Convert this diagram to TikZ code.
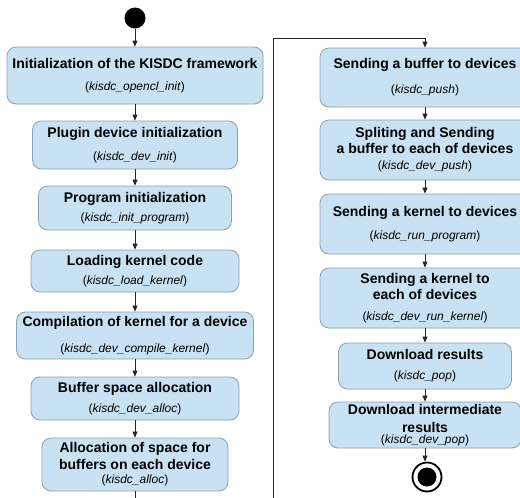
\documentclass[tikz,border=0pt]{standalone}
\usepackage{fontspec}
\setmainfont{Liberation Sans}
\usetikzlibrary{arrows.meta}
\definecolor{boxfill}{HTML}{C8E1F3}
\definecolor{boxline}{HTML}{8E9FAD}
\newcommand\fnname[1]{{\mdseries\fontsize{12}{14}\selectfont(\textit{#1})}}
\begin{document}
\begin{tikzpicture}[x=1pt,y=-1pt,
  box/.style={draw=boxline, fill=boxfill, rounded corners=9pt, line width=0.8pt,
    align=center, inner sep=0pt, font=\fontsize{14}{16}\selectfont\bfseries},
  flow/.style={-{Triangle[length=6pt,width=5pt]}, line width=0.8pt, black!85},
]
\useasboundingbox (0,0) rectangle (520,498);
\clip (0,0) rectangle (520,498);

% start
\node[circle, fill=black, minimum size=21pt, inner sep=0pt] (start) at (135,18) {};

% left column
\node[box, minimum width=256pt, minimum height=57pt] (b1) at (135,75.5)
  {Initialization of the KISDC framework\\[6pt]\fnname{kisdc\_opencl\_init}};
\node[box, minimum width=205pt, minimum height=48pt] (b2) at (135,145)
  {Plugin device initialization\\[7pt]\fnname{kisdc\_dev\_init}};
\node[box, minimum width=193pt, minimum height=44pt] (b3) at (135,208)
  {Program initialization\\[3pt]\fnname{kisdc\_init\_program}};
\node[box, minimum width=208pt, minimum height=42pt] (b4) at (135,271)
  {Loading kernel code\\[3pt]\fnname{kisdc\_load\_kernel}};
\node[box, minimum width=237pt, minimum height=47pt] (b5) at (135,335.5)
  {Compilation of kernel for a device\\[10pt]\fnname{kisdc\_dev\_compile\_kernel}};
\node[box, minimum width=208pt, minimum height=43pt] (b6) at (135,398.5)
  {Buffer space allocation\\[4pt]\fnname{kisdc\_dev\_alloc}};
\node[box, minimum width=186pt, minimum height=53pt] (b7) at (135,464.5)
  {Allocation of space for\\[1pt]buffers on each device\\[-2pt]\fnname{kisdc\_alloc}};

% right column
\node[box, minimum width=210pt, minimum height=59pt] (r1) at (425,77.5)
  {Sending a buffer to devices\\[9pt]\fnname{kisdc\_push}};
\node[box, minimum width=210pt, minimum height=60pt] (r2) at (425,150)
  {Spliting and Sending\\[0pt]a buffer to each of devices\\[0pt]\fnname{kisdc\_dev\_push}};
\node[box, minimum width=210pt, minimum height=60pt] (r3) at (425,224)
  {Sending a kernel to devices\\[7pt]\fnname{kisdc\_run\_program}};
\node[box, minimum width=210pt, minimum height=60pt] (r4) at (425,298)
  {Sending a kernel to\\[0pt]each of devices\\[5pt]\fnname{kisdc\_dev\_run\_kernel}};
\node[box, minimum width=173pt, minimum height=46pt] (r5) at (425,366)
  {Download results\\[4pt]\fnname{kisdc\_pop}};
\node[box, minimum width=192pt, minimum height=46pt] (r6) at (425,425)
  {Download intermediate\\[2pt]results\\[-5pt]\fnname{kisdc\_dev\_pop}};

% end
\node[circle, draw=black, fill=white, line width=1.8pt, minimum size=29pt, inner sep=0pt] (end) at (427,477) {};
\node[circle, fill=black, minimum size=19pt, inner sep=0pt] (endin) at (427,477) {};

% connectors
\draw[flow] (start) -- (b1.north);
\draw[flow] (b1.south) -- (b2.north);
\draw[flow] (b2.south) -- (b3.north);
\draw[flow] (b3.south) -- (b4.north);
\draw[flow] (b4.south) -- (b5.north);
\draw[flow] (b5.south) -- (b6.north);
\draw[flow] (b6.south) -- (b7.north);

\coordinate (loopbot) at (273,515);
\coordinate (looptop) at (273,38);
\draw[flow] (b7.south) |- (loopbot) -- (looptop) -| (r1.north);

\draw[flow] (r1.south) -- (r2.north);
\draw[flow] (r2.south) -- (r3.north);
\draw[flow] (r3.south) -- (r4.north);
\draw[flow] (r4.south) -- (r5.north);
\draw[flow] (r5.south) -- (r6.north);
\draw[flow] (r6.south) -- (end.north -| r6.south);
\end{tikzpicture}
\end{document}
